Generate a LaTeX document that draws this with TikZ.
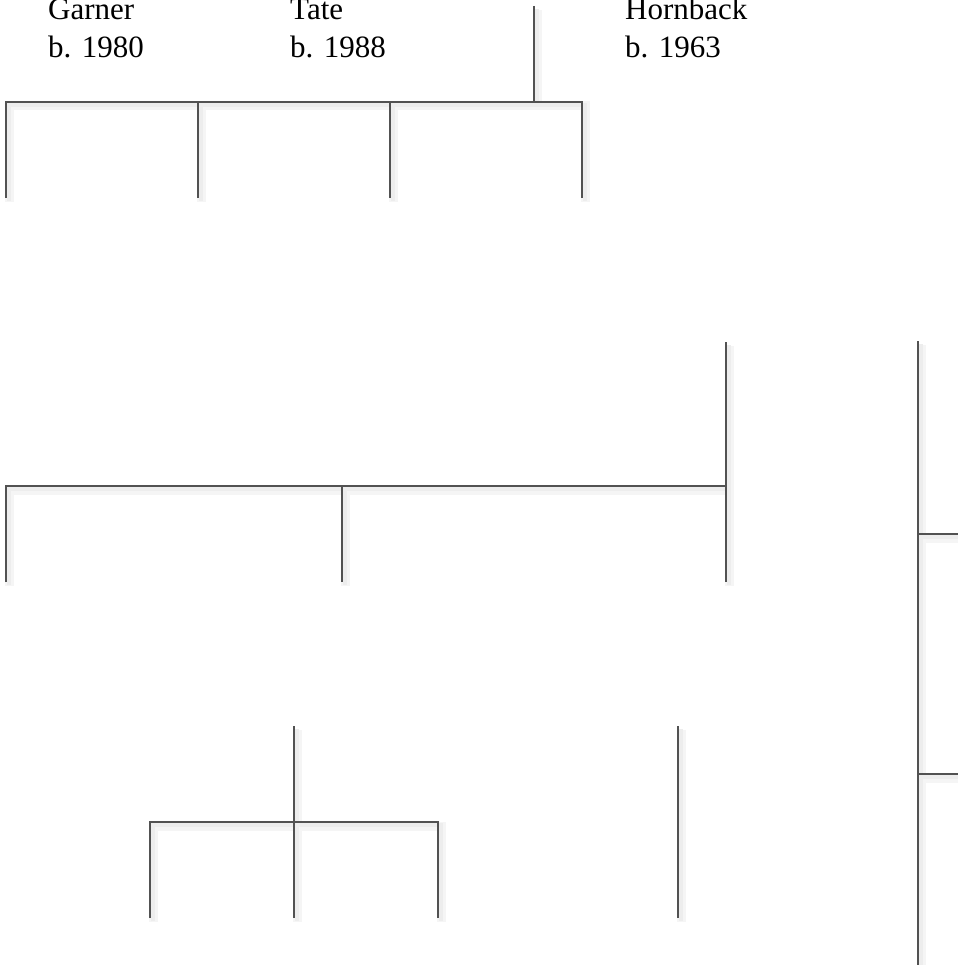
\documentclass[tikz,border=0pt]{standalone}
\usepackage{fontspec}
\setmainfont{Liberation Serif}
\tikzset{
  tie/.style={draw=black!68, line width=1.4pt,
    preaction={draw=black!4, line width=9pt,
      transform canvas={shift={(3pt,-4pt)}}},
    preaction={draw=black!7, line width=4pt,
      transform canvas={shift={(3pt,-3pt)}}}},
  person/.style={anchor=base west, inner sep=0pt, align=left,
    font=\fontsize{31}{38}\selectfont}
}
\begin{document}
\begin{tikzpicture}[x=1pt, y=-1pt]
  \useasboundingbox (0,0) rectangle (957,965);

  % Personas
  \node[person] (garner)   at (48,58)  {Garner\\b. 1980};
  \node[person] (tate)     at (290,58) {Tate\\b. 1988};
  \node[person] (hornback) at (625,58) {Hornback\\b. 1963};

  % Grupo superior
  \coordinate (tstem) at (534,6);
  \coordinate (tjoin) at (534,102);
  \coordinate (t1) at (6,102);   \coordinate (t1e) at (6,198);
  \coordinate (t2) at (198,102); \coordinate (t2e) at (198,198);
  \coordinate (t3) at (390,102); \coordinate (t3e) at (390,198);
  \coordinate (t4) at (582,102); \coordinate (t4e) at (582,198);
  \draw[tie] (t1e) -- (t1) -- (t4) -- (t4e)
    (tstem) -- (tjoin)
    (t2) -- (t2e)
    (t3) -- (t3e);

  % Grupo medio
  \coordinate (m3top) at (726,342);
  \coordinate (m1) at (6,486);   \coordinate (m1e) at (6,582);
  \coordinate (m2) at (342,486); \coordinate (m2e) at (342,582);
  \coordinate (m3) at (726,486); \coordinate (m3e) at (726,582);
  \draw[tie] (m1e) -- (m1) -- (m3)
    (m3top) -- (m3e)
    (m2) -- (m2e);

  % Rama derecha
  \coordinate (rtop) at (918,341);
  \coordinate (rbot) at (918,975);
  \coordinate (ra) at (918,534); \coordinate (rae) at (965,534);
  \coordinate (rb) at (918,774); \coordinate (rbe) at (965,774);
  \draw[tie] (rtop) -- (rbot)
    (ra) -- (rae)
    (rb) -- (rbe);

  % Grupo inferior
  \coordinate (bstem) at (294,726);
  \coordinate (b1) at (150,822); \coordinate (b1e) at (150,918);
  \coordinate (b2) at (294,822); \coordinate (b2e) at (294,918);
  \coordinate (b3) at (438,822); \coordinate (b3e) at (438,918);
  \draw[tie] (b1e) -- (b1) -- (b3) -- (b3e)
    (bstem) -- (b2e);

  % Linea suelta
  \coordinate (s1) at (678,726);
  \coordinate (s1e) at (678,918);
  \draw[tie] (s1) -- (s1e);
\end{tikzpicture}
\end{document}
